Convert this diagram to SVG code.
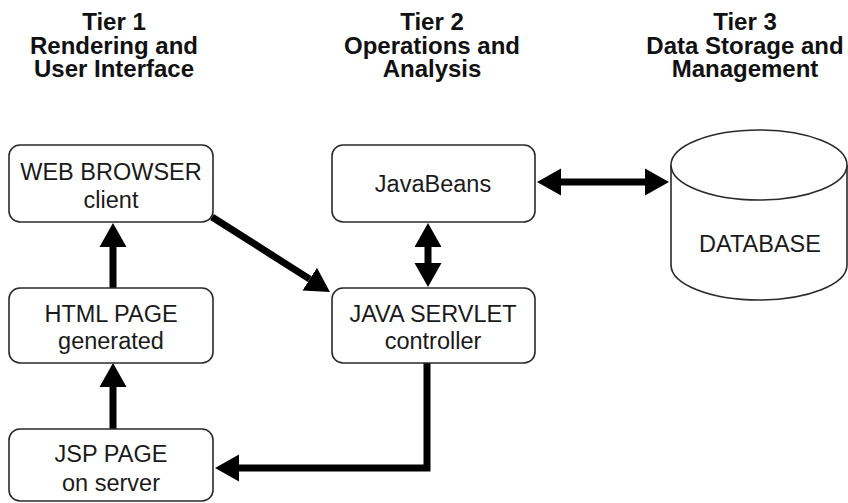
<svg xmlns="http://www.w3.org/2000/svg" width="848" height="503" viewBox="0 0 848 503">
  <style>
    .tier { font-family: "Liberation Sans", Arial, sans-serif; font-weight: bold; font-size: 24px; fill: #111; text-anchor: middle; }
    .label { font-family: "Liberation Sans", Arial, sans-serif; font-size: 23.5px; fill: #1a1a1a; text-anchor: middle; }
    .box { fill: #fff; stroke: #2a2a2a; stroke-width: 1.6; }
    .conn { fill: none; stroke: #000; stroke-width: 7; }
  </style>
  <defs>
    <marker id="head" markerUnits="userSpaceOnUse" markerWidth="26" markerHeight="30" viewBox="0 -15 26 30" refX="0" refY="0" orient="auto-start-reverse">
      <path d="M0,-13.5 L24,0 L0,13.5 Z" fill="#000"/>
    </marker>
  </defs>

  <rect width="848" height="503" fill="#fff"/>

  <!-- column headings -->
  <g id="tier1">
    <text class="tier" x="114" y="30">Tier 1</text>
    <text class="tier" x="114" y="54">Rendering and</text>
    <text class="tier" x="114" y="77">User Interface</text>
  </g>
  <g id="tier2">
    <text class="tier" x="432" y="30">Tier 2</text>
    <text class="tier" x="432" y="54">Operations and</text>
    <text class="tier" x="432" y="77">Analysis</text>
  </g>
  <g id="tier3">
    <text class="tier" x="745" y="30">Tier 3</text>
    <text class="tier" x="745" y="54">Data Storage and</text>
    <text class="tier" x="745" y="77">Management</text>
  </g>

  <!-- connectors -->
  <g id="connectors">
    <line class="conn" x1="113" y1="288" x2="113" y2="247" marker-end="url(#head)"/>
    <line class="conn" x1="113" y1="429" x2="113" y2="387" marker-end="url(#head)"/>
    <line class="conn" x1="212" y1="217" x2="309.7" y2="279.1" marker-end="url(#head)"/>
    <path class="conn" d="M427,363 V468 H239" stroke-linejoin="miter" marker-end="url(#head)"/>
    <line class="conn" x1="428" y1="247" x2="428" y2="263" marker-start="url(#head)" marker-end="url(#head)"/>
    <line class="conn" x1="561" y1="182" x2="645" y2="182" marker-start="url(#head)" marker-end="url(#head)"/>
  </g>

  <!-- nodes -->
  <g id="web-browser">
    <rect class="box" x="9" y="145" width="204" height="77" rx="11"/>
    <text class="label" x="111" y="180">WEB BROWSER</text>
    <text class="label" x="111" y="208">client</text>
  </g>
  <g id="html-page">
    <rect class="box" x="9" y="288" width="204" height="75" rx="11"/>
    <text class="label" x="111" y="322">HTML PAGE</text>
    <text class="label" x="111" y="349">generated</text>
  </g>
  <g id="jsp-page">
    <rect class="box" x="9" y="429" width="204" height="72" rx="11"/>
    <text class="label" x="111" y="462">JSP PAGE</text>
    <text class="label" x="111" y="491">on server</text>
  </g>
  <g id="javabeans">
    <rect class="box" x="332" y="145" width="203" height="77" rx="11"/>
    <text class="label" x="433" y="192">JavaBeans</text>
  </g>
  <g id="java-servlet">
    <rect class="box" x="332" y="288" width="203" height="75" rx="11"/>
    <text class="label" x="433" y="322">JAVA SERVLET</text>
    <text class="label" x="433" y="349">controller</text>
  </g>
  <g id="database">
    <path class="box" d="M671,165 V265 A88,35 0 0 0 847,265 V165"/>
    <ellipse class="box" cx="759" cy="165" rx="88" ry="35"/>
    <text class="label" x="760" y="252">DATABASE</text>
  </g>
</svg>
